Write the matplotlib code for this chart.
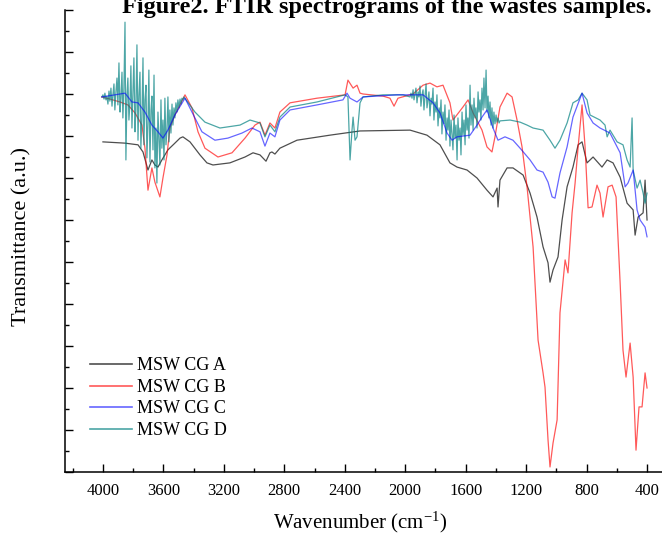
import matplotlib
matplotlib.use("Agg")
import matplotlib.pyplot as plt
from matplotlib.ticker import MultipleLocator, NullFormatter

plt.rcParams['font.family'] = ['Liberation Serif', 'DejaVu Serif']
plt.rcParams['mathtext.default'] = 'regular'

# ---------------- data (wavenumber cm-1, transmittance a.u.) ----------------
wn_a = [4000, 3854, 3768, 3735, 3702, 3676, 3656, 3636, 3610, 3570,
        3524, 3490, 3471, 3424, 3358, 3312, 3272, 3160, 3060, 3007,
        2961, 2921, 2895, 2882, 2862, 2829, 2716, 2498, 2299, 1968,
        1856, 1770, 1704, 1657, 1591, 1525, 1459, 1419, 1392, 1386,
        1373, 1326, 1287, 1220, 1174, 1128, 1088, 1055, 1042, 1022,
        989, 962, 929, 890, 856, 830, 797, 757, 698, 664,
        625, 578, 532, 492, 479, 459, 426, 413, 400]
t_a = [7.86, 7.83, 7.79, 7.62, 7.19, 7.43, 7.31, 7.26, 7.43, 7.67,
       7.83, 7.95, 7.98, 7.86, 7.55, 7.36, 7.31, 7.36, 7.50, 7.60,
       7.55, 7.40, 7.60, 7.62, 7.57, 7.71, 7.90, 8.02, 8.12, 8.14,
       8.02, 7.79, 7.36, 7.26, 7.19, 7.00, 6.71, 6.55, 6.76, 6.31,
       6.95, 7.24, 7.24, 7.07, 6.64, 6.07, 5.36, 4.98, 4.52, 4.81,
       5.12, 6.00, 6.79, 7.26, 7.79, 7.86, 7.36, 7.50, 7.26, 7.43,
       7.36, 7.02, 6.40, 6.24, 5.64, 6.07, 6.17, 6.95, 6.00]

wn_b = [4007, 3954, 3887, 3835, 3788, 3742, 3722, 3702, 3676, 3656,
        3623, 3603, 3576, 3557, 3524, 3457, 3411, 3371, 3325, 3239,
        3146, 3060, 2994, 2961, 2928, 2895, 2862, 2829, 2762, 2584,
        2398, 2379, 2345, 2319, 2299, 2279, 2147, 2101, 2074, 2048,
        1948, 1882, 1836, 1790, 1750, 1704, 1684, 1618, 1584, 1551,
        1492, 1459, 1426, 1406, 1373, 1326, 1293, 1260, 1227, 1194,
        1174, 1154, 1121, 1088, 1075, 1055, 1042, 1022, 995, 976,
        942, 923, 896, 876, 856, 830, 810, 790, 764, 731,
        711, 691, 658, 631, 605, 578, 559, 539, 512, 492,
        473, 453, 433, 413, 400]
t_b = [8.93, 8.88, 8.81, 8.74, 8.55, 8.26, 7.71, 6.71, 7.24, 6.90,
       6.55, 7.00, 7.55, 8.19, 8.50, 8.98, 8.67, 8.10, 7.71, 7.50,
       7.60, 7.95, 8.26, 8.33, 8.02, 8.31, 8.19, 8.57, 8.79, 8.90,
       8.98, 9.33, 9.14, 9.21, 9.02, 9.00, 8.95, 8.90, 8.71, 8.90,
       9.00, 9.21, 9.26, 9.17, 9.21, 8.79, 8.38, 8.69, 8.86, 8.55,
       8.14, 7.74, 7.62, 7.98, 8.69, 9.02, 8.93, 8.38, 7.74, 6.79,
       6.07, 5.36, 3.14, 2.36, 2.02, 0.76, 0.12, 0.69, 1.24, 3.79,
       5.05, 4.74, 6.17, 6.88, 7.74, 8.74, 7.74, 6.29, 6.31, 6.83,
       6.64, 6.07, 6.79, 6.83, 6.55, 4.50, 2.90, 2.26, 3.07, 2.26,
       0.52, 1.55, 1.55, 2.36, 2.00]

wn_c = [4007, 3921, 3854, 3808, 3768, 3722, 3676, 3636, 3603, 3570,
        3524, 3457, 3411, 3345, 3259, 3173, 3080, 3014, 2961, 2928,
        2895, 2862, 2829, 2762, 2584, 2412, 2385, 2365, 2319, 2279,
        2054, 1882, 1816, 1770, 1723, 1690, 1657, 1571, 1525, 1492,
        1459, 1419, 1386, 1340, 1287, 1240, 1174, 1128, 1088, 1055,
        1028, 1009, 976, 929, 890, 830, 797, 757, 711, 645,
        578, 545, 526, 492, 466, 446, 413, 400]
t_c = [8.93, 8.98, 9.02, 8.81, 8.79, 8.57, 8.26, 8.10, 7.95, 8.14,
       8.50, 8.90, 8.57, 8.10, 7.90, 7.95, 8.07, 8.19, 8.10, 7.76,
       8.07, 7.98, 8.38, 8.62, 8.74, 8.86, 9.02, 8.90, 8.81, 8.93,
       8.98, 8.98, 8.79, 8.55, 8.07, 7.90, 7.98, 8.02, 8.26, 8.45,
       8.62, 8.19, 7.90, 7.98, 7.90, 7.71, 7.43, 7.19, 7.14, 6.90,
       6.55, 6.52, 7.12, 7.74, 8.45, 9.02, 8.55, 8.31, 8.19, 8.07,
       7.60, 6.79, 6.88, 7.19, 6.24, 6.00, 5.83, 5.60]

wn_d = [4007, 4000, 3993, 3987, 3980, 3974, 3967, 3960, 3954, 3947,
        3940, 3934, 3927, 3921, 3914, 3907, 3901, 3894, 3887, 3881,
        3874, 3868, 3861, 3854, 3848, 3841, 3835, 3828, 3821, 3815,
        3808, 3801, 3795, 3788, 3782, 3775, 3768, 3762, 3755, 3749,
        3742, 3735, 3729, 3722, 3715, 3709, 3702, 3696, 3689, 3682,
        3676, 3669, 3662, 3656, 3649, 3643, 3636, 3629, 3623, 3616,
        3610, 3603, 3596, 3590, 3583, 3576, 3570, 3563, 3557, 3550,
        3543, 3537, 3530, 3524, 3517, 3510, 3504, 3497, 3490, 3484,
        3477, 3471, 3464,
        3391, 3325, 3226, 3093, 3027, 2961, 2928, 2895, 2862, 2829,
        2762, 2584, 2398, 2379, 2365, 2352, 2345, 2332, 2319, 2299,
        2279, 2147, 2015, 1968,
        1962, 1955, 1948, 1942, 1935, 1929, 1922, 1915, 1909, 1902,
        1896, 1889, 1882, 1876, 1869, 1862, 1856, 1849, 1843, 1836,
        1829, 1823, 1816, 1810, 1803, 1796, 1790, 1783, 1776, 1770,
        1763, 1757, 1750, 1743, 1737, 1730, 1723, 1717, 1710, 1704,
        1697, 1690, 1684, 1677, 1671, 1664, 1657, 1651, 1644, 1637,
        1631, 1624, 1618, 1611, 1604, 1598, 1591, 1585, 1578, 1571,
        1565, 1558, 1551, 1545, 1538, 1532, 1525, 1518, 1512, 1505,
        1499, 1492, 1485, 1479, 1472, 1465, 1459, 1452, 1446, 1439,
        1432, 1426, 1419, 1413, 1406, 1399, 1393, 1386, 1379, 1373,
        1306, 1240, 1194, 1154, 1088, 1042, 1009, 976, 929, 890,
        856, 830, 797, 777, 711, 678, 664, 645, 598, 559,
        532, 512, 499, 492, 466, 446, 426, 413, 400]
t_d = [8.93, 8.98, 8.88, 9.02, 8.86, 8.95, 8.76, 9.07, 8.83, 9.14,
       8.71, 8.98, 9.24, 8.62, 9.05, 9.38, 8.74, 9.74, 8.57, 8.90,
       9.52, 8.43, 9.14, 10.71, 7.43, 8.98, 9.38, 8.38, 8.81, 9.67,
       8.19, 9.05, 9.86, 8.10, 8.62, 10.17, 7.90, 8.95, 9.52, 7.71,
       8.43, 9.86, 7.79, 8.86, 9.21, 7.48, 8.33, 9.57, 7.38, 8.62,
       8.95, 7.67, 9.45, 7.24, 8.19, 6.88, 8.57, 7.90, 7.31, 8.86,
       7.71, 8.38, 7.43, 8.90, 7.79, 8.14, 8.93, 7.86, 8.62, 8.07,
       8.76, 8.26, 8.67, 8.43, 8.79, 8.57, 8.86, 8.67, 8.88, 8.76,
       8.90, 8.86, 8.93,
       8.57, 8.33, 8.19, 8.26, 8.38, 8.31, 7.98, 8.26, 8.10, 8.45,
       8.69, 8.81, 8.98, 8.93, 7.43, 8.14, 8.45, 7.90, 7.98, 8.79,
       8.93, 8.98, 8.98, 8.93,
       9.02, 8.90, 9.10, 8.86, 9.00, 9.14, 8.79, 9.05, 8.93, 9.19,
       8.71, 8.98, 9.10, 8.62, 8.95, 9.24, 8.67, 8.86, 9.05, 8.48,
       8.90, 8.76, 9.14, 8.38, 8.81, 8.57, 8.98, 8.24, 8.67, 8.43,
       8.86, 8.05, 8.57, 8.29, 8.74, 7.90, 8.43, 8.14, 8.62, 7.76,
       8.38, 8.02, 7.67, 8.50, 7.95, 8.26, 7.43, 8.43, 7.90, 8.19,
       7.55, 8.57, 8.02, 8.38, 7.79, 8.74, 8.14, 8.43, 7.95, 9.21,
       8.26, 8.74, 8.14, 8.90, 8.43, 8.67, 8.19, 9.05, 8.57, 8.86,
       8.38, 9.14, 8.62, 9.38, 8.67, 9.57, 8.57, 8.95, 8.43, 8.81,
       8.26, 8.67, 8.19, 8.57, 8.29, 8.50, 8.33, 8.43, 8.31, 8.36,
       8.38, 8.33, 8.26, 8.19, 8.14, 7.90, 7.71, 7.90, 8.31, 8.79,
       8.86, 9.02, 8.86, 8.50, 8.38, 8.26, 7.98, 8.14, 7.86, 7.79,
       7.43, 7.26, 8.43, 7.19, 6.76, 6.95, 6.64, 6.40, 6.64]

series_labels = ['MSW CG A', 'MSW CG B', 'MSW CG C', 'MSW CG D']
x_ticks = [4000, 3600, 3200, 2800, 2400, 2000, 1600, 1200, 800, 400]

# ---------------- figure ----------------
fig = plt.figure(figsize=(6.62, 5.36), dpi=100)
ax = fig.add_axes([65/662, 64/536, 597/662, 462/536])

la, = ax.plot(wn_a, t_a, color='#222222', lw=0.9, alpha=0.8)
lb, = ax.plot(wn_b, t_b, color='#ff0000', lw=0.9, alpha=0.65)
ld, = ax.plot(wn_d, t_d, color='#008080', lw=0.9, alpha=0.7)
lc, = ax.plot(wn_c, t_c, color='#0000ff', lw=0.9, alpha=0.6)

ax.set_xlim(4251, 301)
ax.set_ylim(0, 11)

ax.set_xticks(x_ticks)
ax.set_xticklabels([str(v) for v in x_ticks])
ax.xaxis.set_minor_locator(MultipleLocator(200))
ax.yaxis.set_major_locator(MultipleLocator(1))
ax.yaxis.set_minor_locator(MultipleLocator(0.5))
ax.yaxis.set_major_formatter(NullFormatter())

ax.tick_params(which='both', direction='in', width=1.0, top=False, right=False)
ax.tick_params(which='major', length=6)
ax.tick_params(which='minor', length=3)
ax.tick_params(axis='x', labelsize=12, pad=8)

for s in ['top', 'right']:
    ax.spines[s].set_visible(False)
for s in ['left', 'bottom']:
    ax.spines[s].set_linewidth(1.1)

leg = ax.legend([la, lb, lc, ld], series_labels, loc='upper left',
                bbox_to_anchor=(0.042, 0.248), frameon=False, fontsize=13,
                handlelength=2.3, handletextpad=0.3, labelspacing=0.25,
                borderpad=0, borderaxespad=0)
for h in leg.get_lines():
    h.set_linewidth(1.2)

fig.text(22/662, 1 - 236/536, 'Transmittance (a.u.)', rotation=90,
         ha='center', va='center', fontsize=16)
fig.text(360/662, 1 - 522/536, r'Wavenumber (cm$^{-1}$)',
         ha='center', va='center', fontsize=15)
fig.text(387/662, 1 - 13/536, 'Figure2. FTIR spectrograms of the wastes samples.',
         ha='center', va='baseline', fontsize=17.5, fontweight='bold')

fig.savefig('out.png', dpi=100)
